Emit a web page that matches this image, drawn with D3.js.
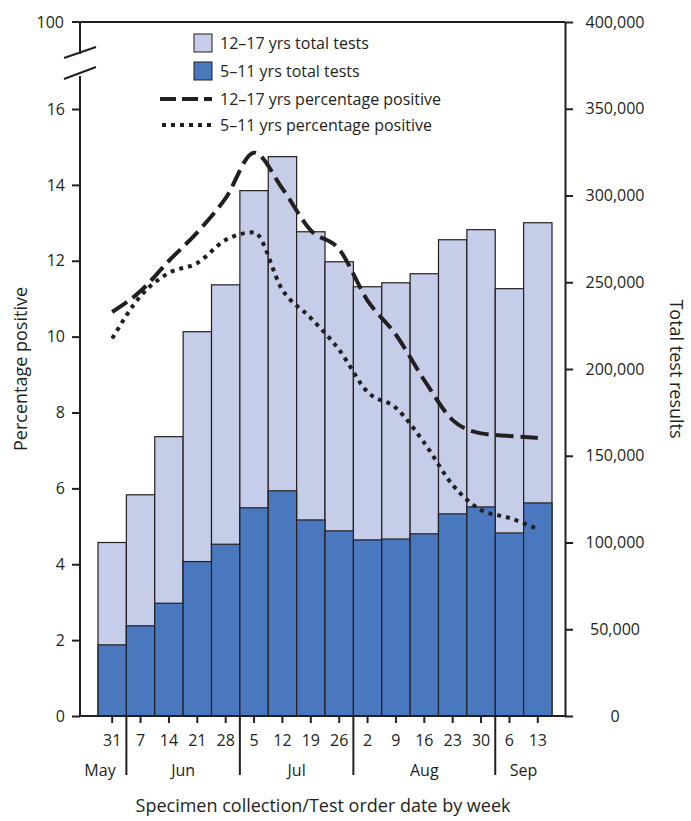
<!DOCTYPE html>
<html><head><meta charset="utf-8">
<script src="https://cdn.jsdelivr.net/npm/d3@7"></script>
<style>body{margin:0;background:#fff}text{font-family:"Open Sans",sans-serif;fill:#231f20}</style>
</head><body><svg id="c" width="691" height="821"></svg>
<script>
const weeks=["31","7","14","21","28","5","12","19","26","2","9","16","23","30","6","13"];
const months=[{name:"May",from:0,to:0},{name:"Jun",from:1,to:4},{name:"Jul",from:5,to:8},{name:"Aug",from:9,to:13},{name:"Sep",from:14,to:15}];
const total1217=[100000,127500,161000,221500,248500,302800,322400,279100,261800,247400,249700,254900,274500,280300,246300,284300];
const total511=[41000,52000,65000,89000,99000,120000,129800,113000,106700,101500,102000,105000,116500,120500,105500,122800];
const pct1217=[10.65,11.2,12.0,12.75,13.65,14.85,13.9,12.8,12.3,10.95,10.05,8.85,7.8,7.45,7.38,7.33];
const pct511=[9.95,11.07,11.68,11.94,12.55,12.75,11.23,10.49,9.65,8.54,8.12,7.2,6.09,5.43,5.22,4.93];
const leftTicks=[0,2,4,6,8,10,12,14,16];
const rightTicks=[0,50000,100000,150000,200000,250000,300000,350000,400000];

const svg=d3.select("#c");
const L=80,R=565,B=716,T=22;
const x=d3.scaleBand().domain(weeks.map((d,i)=>i)).range([98,552]).padding(0);
const yL=d3.scaleLinear().domain([0,16]).range([B,109]);
const yR=d3.scaleLinear().domain([0,400000]).range([B,T]);
const ink="#231f20";

const g=svg.append("g");
g.selectAll(".lt").data(weeks).join("rect").attr("x",(d,i)=>x(i)).attr("width",x.bandwidth())
  .attr("y",(d,i)=>yR(total1217[i])).attr("height",(d,i)=>B-yR(total1217[i]))
  .attr("fill","#c6cde8").attr("stroke",ink).attr("stroke-width",1.2);
g.selectAll(".dk").data(weeks).join("rect").attr("x",(d,i)=>x(i)).attr("width",x.bandwidth())
  .attr("y",(d,i)=>yR(total511[i])).attr("height",(d,i)=>B-yR(total511[i]))
  .attr("fill","#4a78bf").attr("stroke",ink).attr("stroke-width",1.2);

const line=d3.line().x((d,i)=>x(i)+x.bandwidth()/2).y(d=>yL(d)).curve(d3.curveMonotoneX);
svg.append("path").attr("d",line(pct1217)).attr("fill","none").attr("stroke",ink).attr("stroke-width",4).attr("stroke-dasharray","18,7");
svg.append("path").attr("d",line(pct511)).attr("fill","none").attr("stroke",ink).attr("stroke-width",4).attr("stroke-dasharray","4,5");

const la=svg.append("g").attr("transform",`translate(${L},0)`).call(d3.axisLeft(yL).tickValues(leftTicks).tickSize(8).tickSizeOuter(0));
la.select(".domain").remove();
la.selectAll("line").attr("stroke",ink).attr("stroke-width",2);
la.selectAll("text").attr("font-size",16).attr("dx",-4);
svg.append("line").attr("x1",L).attr("x2",L).attr("y1",B).attr("y2",76).attr("stroke",ink).attr("stroke-width",2);
svg.append("line").attr("x1",L).attr("x2",L).attr("y1",54).attr("y2",T).attr("stroke",ink).attr("stroke-width",2);
[[64,79,96,67],[64,58,96,47]].forEach(s=>svg.append("line").attr("x1",s[0]).attr("y1",s[1]).attr("x2",s[2]).attr("y2",s[3]).attr("stroke",ink).attr("stroke-width",2));
svg.append("line").attr("x1",L-8).attr("x2",R).attr("y1",T).attr("y2",T).attr("stroke",ink).attr("stroke-width",2);
svg.append("text").attr("x",L-16).attr("y",T+6).attr("text-anchor","end").attr("font-size",16).text("100");

const ra=svg.append("g").attr("transform",`translate(${R},0)`).call(d3.axisRight(yR).tickValues(rightTicks).tickSize(8).tickSizeOuter(0).tickFormat(d3.format(",")));
ra.select(".domain").attr("stroke",ink).attr("stroke-width",2);
ra.selectAll("line").attr("stroke",ink).attr("stroke-width",2);
ra.selectAll("text").attr("font-size",16).attr("x",50).attr("text-anchor","middle");

svg.append("line").attr("x1",L).attr("x2",R).attr("y1",B).attr("y2",B).attr("stroke",ink).attr("stroke-width",2);
weeks.forEach((w,i)=>{
  const cx=x(i)+x.bandwidth()/2;
  svg.append("line").attr("x1",cx).attr("x2",cx).attr("y1",B).attr("y2",B+7).attr("stroke",ink).attr("stroke-width",2);
  svg.append("text").attr("x",cx).attr("y",B+30).attr("text-anchor","middle").attr("font-size",16).text(w);
});
months.forEach((m,k)=>{
  const a=x(m.from),b=x(m.to)+x.bandwidth();
  if(k>0) svg.append("line").attr("x1",a).attr("x2",a).attr("y1",B).attr("y2",B+59).attr("stroke",ink).attr("stroke-width",2);
  const cx=k==0?100:(a+b)/2;
  svg.append("text").attr("x",cx).attr("y",B+60).attr("text-anchor","middle").attr("font-size",16).text(m.name);
});
svg.append("text").attr("x",323).attr("y",812).attr("text-anchor","middle").attr("font-size",18).text("Specimen collection/Test order date by week");
svg.append("text").attr("transform","translate(27,369) rotate(-90)").attr("text-anchor","middle").attr("font-size",18).text("Percentage positive");
svg.append("text").attr("transform","translate(670,369) rotate(90)").attr("text-anchor","middle").attr("font-size",18).text("Total test results");

const lg=svg.append("g");
lg.append("rect").attr("x",194).attr("y",34).attr("width",18).attr("height",18).attr("fill","#c6cde8").attr("stroke",ink);
lg.append("text").attr("x",220).attr("y",49).attr("font-size",16).text("12–17 yrs total tests");
lg.append("rect").attr("x",194).attr("y",62).attr("width",18).attr("height",18).attr("fill","#4a78bf").attr("stroke",ink);
lg.append("text").attr("x",220).attr("y",77).attr("font-size",16).text("5–11 yrs total tests");
lg.append("line").attr("x1",160).attr("x2",212).attr("y1",99).attr("y2",99).attr("stroke",ink).attr("stroke-width",4).attr("stroke-dasharray","16,6");
lg.append("text").attr("x",220).attr("y",105).attr("font-size",16).text("12–17 yrs percentage positive");
lg.append("line").attr("x1",162).attr("x2",212).attr("y1",125).attr("y2",125).attr("stroke",ink).attr("stroke-width",4).attr("stroke-dasharray","4,5");
lg.append("text").attr("x",220).attr("y",131).attr("font-size",16).text("5–11 yrs percentage positive");
</script></body></html>
